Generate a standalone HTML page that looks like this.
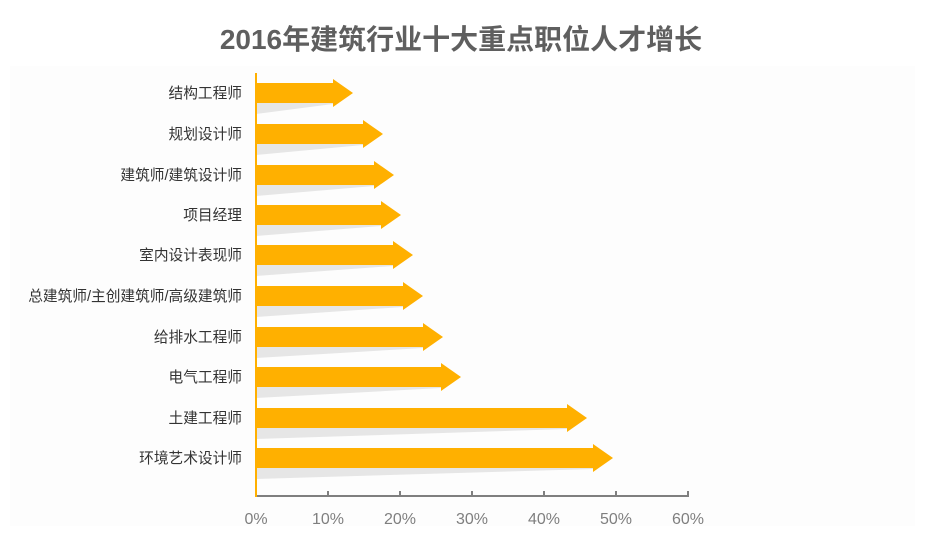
<!DOCTYPE html>
<html><head><meta charset="utf-8"><style>
html,body{margin:0;padding:0;background:#fff;}
svg{display:block;font-family:"Liberation Sans","Noto Sans CJK SC",sans-serif;}
</style></head><body>
<svg width="931" height="552" viewBox="0 0 931 552" xmlns="http://www.w3.org/2000/svg">
<rect width="931" height="552" fill="#fff"/>
<rect x="10" y="66" width="905" height="460" fill="#fdfdfd"/>
<text x="461" y="49" text-anchor="middle" font-size="28" font-weight="bold" fill="#5f5f5f">2016年建筑行业十大重点职位人才增长</text>
<g font-size="14.7" fill="#333" text-anchor="end">
<text x="242" y="98">结构工程师</text>
<text x="242" y="139">规划设计师</text>
<text x="242" y="180">建筑师/建筑设计师</text>
<text x="242" y="220">项目经理</text>
<text x="242" y="260">室内设计表现师</text>
<text x="242" y="301">总建筑师/主创建筑师/高级建筑师</text>
<text x="242" y="342">给排水工程师</text>
<text x="242" y="382">电气工程师</text>
<text x="242" y="423">土建工程师</text>
<text x="242" y="463">环境艺术设计师</text>
</g>
<g fill="#e6e6e6">
<polygon points="256,103 333,103 333,104 256,114"/>
<polygon points="256,144 363,144 363,145 256,155"/>
<polygon points="256,185 374,185 374,186 256,196"/>
<polygon points="256,225 381,225 381,226 256,236"/>
<polygon points="256,265 393,265 393,266 256,276"/>
<polygon points="256,306 403,306 403,307 256,317"/>
<polygon points="256,347 423,347 423,348 256,358"/>
<polygon points="256,387 441,387 441,388 256,398"/>
<polygon points="256,428 567,428 567,429 256,439"/>
<polygon points="256,468 593,468 593,469 256,479"/>
</g>
<g fill="#ffb000">
<polygon points="256,83 333,83 333,79 353,93 333,107 333,103 256,103"/>
<polygon points="256,124 363,124 363,120 383,134 363,148 363,144 256,144"/>
<polygon points="256,165 374,165 374,161 394,175 374,189 374,185 256,185"/>
<polygon points="256,205 381,205 381,201 401,215 381,229 381,225 256,225"/>
<polygon points="256,245 393,245 393,241 413,255 393,269 393,265 256,265"/>
<polygon points="256,286 403,286 403,282 423,296 403,310 403,306 256,306"/>
<polygon points="256,327 423,327 423,323 443,337 423,351 423,347 256,347"/>
<polygon points="256,367 441,367 441,363 461,377 441,391 441,387 256,387"/>
<polygon points="256,408 567,408 567,404 587,418 567,432 567,428 256,428"/>
<polygon points="256,448 593,448 593,444 613,458 593,472 593,468 256,468"/>
</g>
<line x1="256" y1="496" x2="689" y2="496" stroke="#7f7f7f" stroke-width="2"/>
<g stroke="#7f7f7f" stroke-width="2">
<line x1="328" y1="491" x2="328" y2="496"/><line x1="400" y1="491" x2="400" y2="496"/>
<line x1="472" y1="491" x2="472" y2="496"/><line x1="544" y1="491" x2="544" y2="496"/>
<line x1="616" y1="491" x2="616" y2="496"/><line x1="688" y1="491" x2="688" y2="496"/>
</g>
<line x1="256" y1="73" x2="256" y2="497" stroke="#ffb000" stroke-width="2"/>
<g font-size="16" fill="#7f7f7f" text-anchor="middle">
<text x="256" y="524">0%</text><text x="328" y="524">10%</text><text x="400" y="524">20%</text>
<text x="472" y="524">30%</text><text x="544" y="524">40%</text><text x="616" y="524">50%</text><text x="688" y="524">60%</text>
</g>
</svg>
</body></html>
